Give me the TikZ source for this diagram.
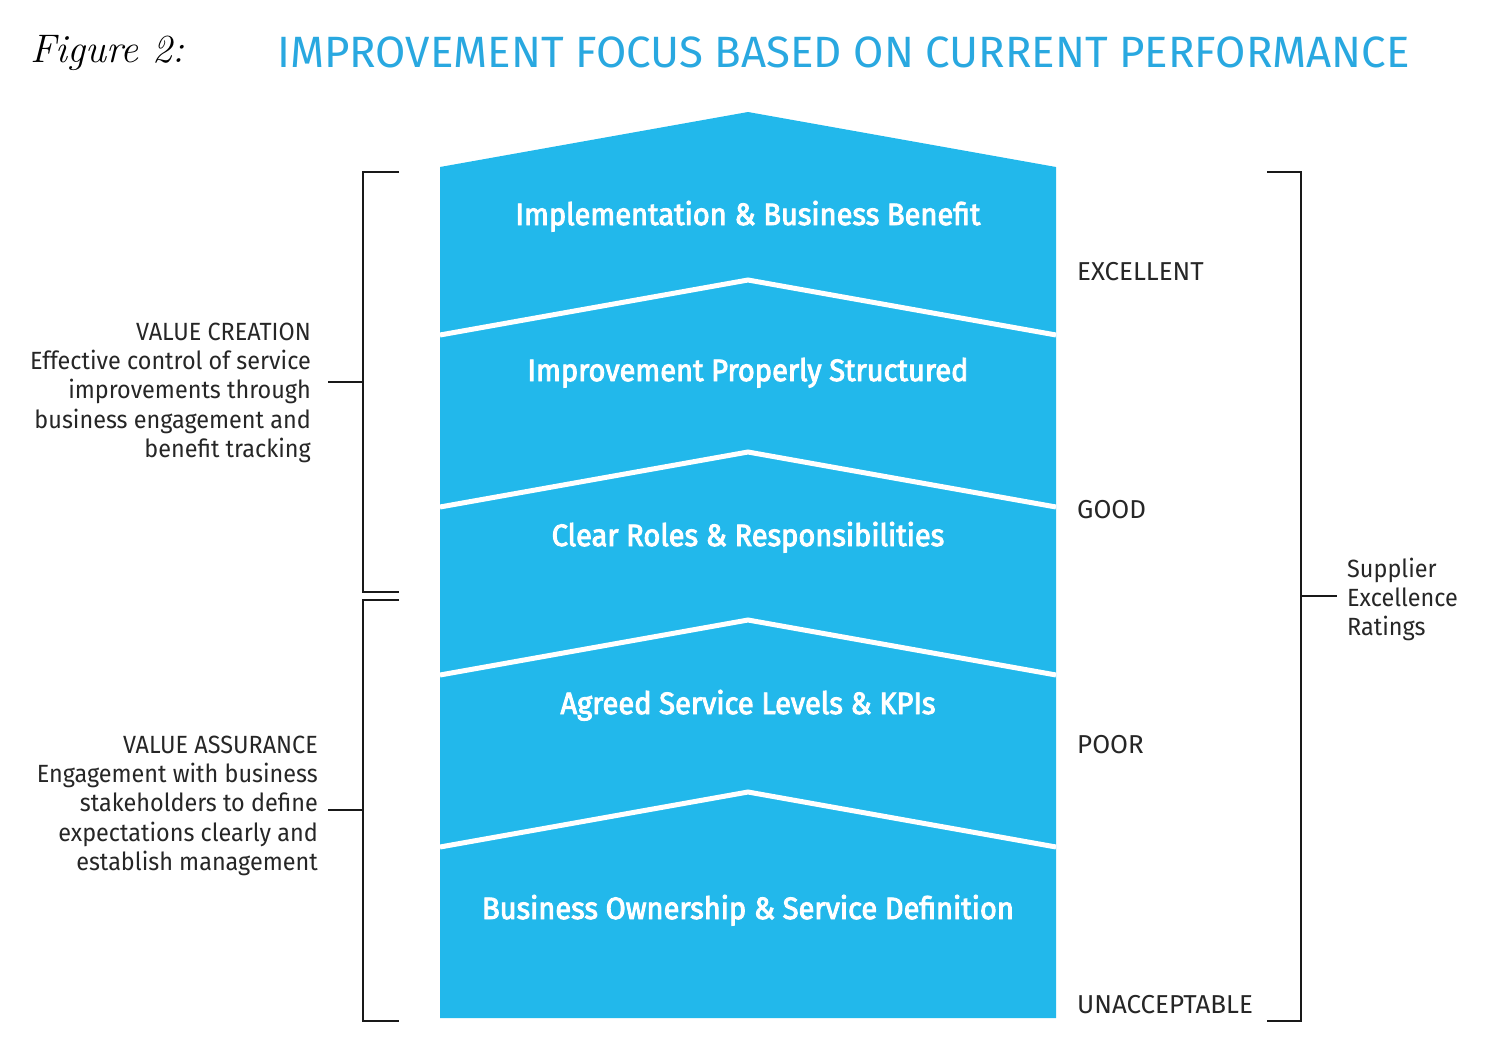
\documentclass[tikz,border=0pt]{standalone}
\usepackage{fontspec}
\newfontfamily\dinfont{Fira Sans}
\newfontfamily\dinmedium{Fira Sans}[FakeStretch=0.94, FakeBold=3]
\newfontfamily\dinnarrow{Fira Sans}[FakeStretch=0.94]
\definecolor{bandblue}{HTML}{22B8EB}
\definecolor{titleblue}{HTML}{29A8E0}
\tikzset{
  bracket/.style={line width=2.5bp, black!90},
  sep/.style={line width=5bp, white},
  bandtext/.style={anchor=base, inner sep=0pt, text=white, font=\dinmedium\fontsize{31}{36}\selectfont},
  rating/.style={anchor=base west, inner sep=0pt, text=black!85, font=\dinfont\fontsize{26}{29.3}\selectfont},
  sidetext/.style={anchor=base east, inner sep=0pt, align=right, text=black!85, font=\dinnarrow\fontsize{25}{29.3}\selectfont}
}
\begin{document}
\begin{tikzpicture}[x=1bp, y=-1bp]
  \useasboundingbox (0,0) rectangle (1491,1042);
  % heading
  \node[anchor=base west, inner sep=0pt, font=\itshape\fontsize{40}{48}\selectfont] (fig) at (30,62) {Figure 2:};
  \node[anchor=base west, inner sep=0pt, text=titleblue, font=\dinfont\fontsize{44}{50}\selectfont] (title) at (277,67) {IMPROVEMENT FOCUS BASED ON CURRENT PERFORMANCE};
  % the arrow shaped column
  \fill[bandblue] (440,167) -- (748,112) -- (1056,167) -- (1056,1018) -- (440,1018) -- cycle;
  \foreach \y in {280,452,620,792}
    \draw[sep] (440,\y+55) -- (748,\y) -- (1056,\y+55);
  \node[bandtext] (benefit) at (748,225) {Implementation \& Business Benefit};
  \node[bandtext] (structured) at (748,381) {Improvement Properly Structured};
  \node[bandtext] (roles) at (748,546) {Clear Roles \& Responsibilities};
  \node[bandtext] (kpis) at (748,714) {Agreed Service Levels \& KPIs};
  \node[bandtext] (ownership) at (748,919) {Business Ownership \& Service Definition};
  % ratings
  \node[rating] (excellent) at (1077,280) {EXCELLENT};
  \node[rating] (good) at (1077,518) {GOOD};
  \node[rating] (poor) at (1077,753) {POOR};
  \node[rating] (unacceptable) at (1077,1013) {UNACCEPTABLE};
  \draw[bracket] (1267,172) -- (1301,172) -- (1301,1021) -- (1267,1021);
  \draw[bracket] (1301,596) -- (1337,596);
  \node[rating, align=left, font=\dinnarrow\fontsize{25}{29.3}\selectfont] (ratings) at (1347,635.6) {Supplier\\Excellence\\Ratings};
  % left brackets
  \draw[bracket] (399,172) -- (363,172) -- (363,592) -- (399,592);
  \draw[bracket] (328,382) -- (363,382);
  \draw[bracket] (399,600) -- (363,600) -- (363,1021) -- (399,1021);
  \draw[bracket] (328,810) -- (363,810);
  \node[sidetext] (creation) at (311,457.2) {VALUE CREATION\\Effective control of service\\improvements through\\business engagement and\\benefit tracking};
  \node[sidetext] (assurance) at (318,870.2) {VALUE ASSURANCE\\Engagement with business\\stakeholders to define\\expectations clearly and\\establish management};
\end{tikzpicture}
\end{document}
